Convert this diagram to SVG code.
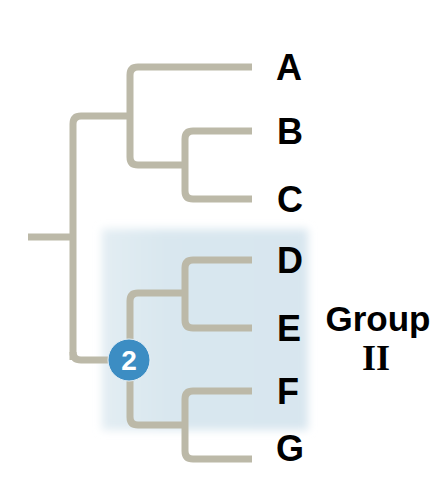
<svg xmlns="http://www.w3.org/2000/svg" width="433" height="495" viewBox="0 0 433 495">
<style>
.br{fill:none;stroke:#bcb9a8;stroke-width:7;stroke-linecap:butt;stroke-linejoin:round}
.lb{font-family:"Liberation Sans",Arial,sans-serif;font-weight:bold;font-size:36px;fill:#000}
</style>
<defs>
<filter id="blur" x="-20%" y="-20%" width="140%" height="140%"><feGaussianBlur stdDeviation="4"/></filter>
<linearGradient id="bg" x1="0" y1="0" x2="1" y2="0">
<stop offset="0" stop-color="#e3edf3"/>
<stop offset="0.3" stop-color="#d9e7ef"/>
<stop offset="1" stop-color="#d8e6ef"/>
</linearGradient>
</defs>
<rect id="group-bg" x="102" y="229" width="206" height="201" fill="url(#bg)" filter="url(#blur)"/>
<g id="connectors">
<path class="br" d="M28 237 H73"/>
<path class="br" d="M81 116 H130 M73 360 V124 Q73 116 81 116"/>
<path class="br" d="M73 352 Q73 360 81 360 H110"/>
<path class="br" d="M252 67 H138 Q130 67 130 75 V157 Q130 165 138 165 H185"/>
<path class="br" d="M252 131 H193 Q185 131 185 139 V191 Q185 199 193 199 H252"/>
<path class="br" d="M185 293 H138 Q130 293 130 301 V417 Q130 425 138 425 H185"/>
<path class="br" d="M252 260 H193 Q185 260 185 268 V320 Q185 328 193 328 H252"/>
<path class="br" d="M252 391 H193 Q185 391 185 399 V451 Q185 459 193 459 H252"/>
</g>
<g id="node-2">
<circle cx="129" cy="360" r="21" fill="#3c8dc3" stroke="#e6f0f6" stroke-width="1"/>
<text x="129" y="370" text-anchor="middle" font-family="Liberation Sans,Arial,sans-serif" font-weight="bold" font-size="28" fill="#fff">2</text>
</g>
<g id="node-A"><text class="lb" x="276" y="80">A</text></g>
<g id="node-B"><text class="lb" x="277" y="144">B</text></g>
<g id="node-C"><text class="lb" x="277" y="212">C</text></g>
<g id="node-D"><text class="lb" x="277" y="273">D</text></g>
<g id="node-E"><text class="lb" x="277" y="341">E</text></g>
<g id="node-F"><text class="lb" x="277" y="404">F</text></g>
<g id="node-G"><text class="lb" x="276" y="461">G</text></g>
<g id="group-label">
<text x="378" y="331" text-anchor="middle" font-family="Liberation Sans,Arial,sans-serif" font-weight="bold" font-size="35" fill="#000">Group</text>
<text x="376" y="370" text-anchor="middle" font-family="Liberation Serif,Times New Roman,serif" font-weight="bold" font-size="36" fill="#000">II</text>
</g>
</svg>
